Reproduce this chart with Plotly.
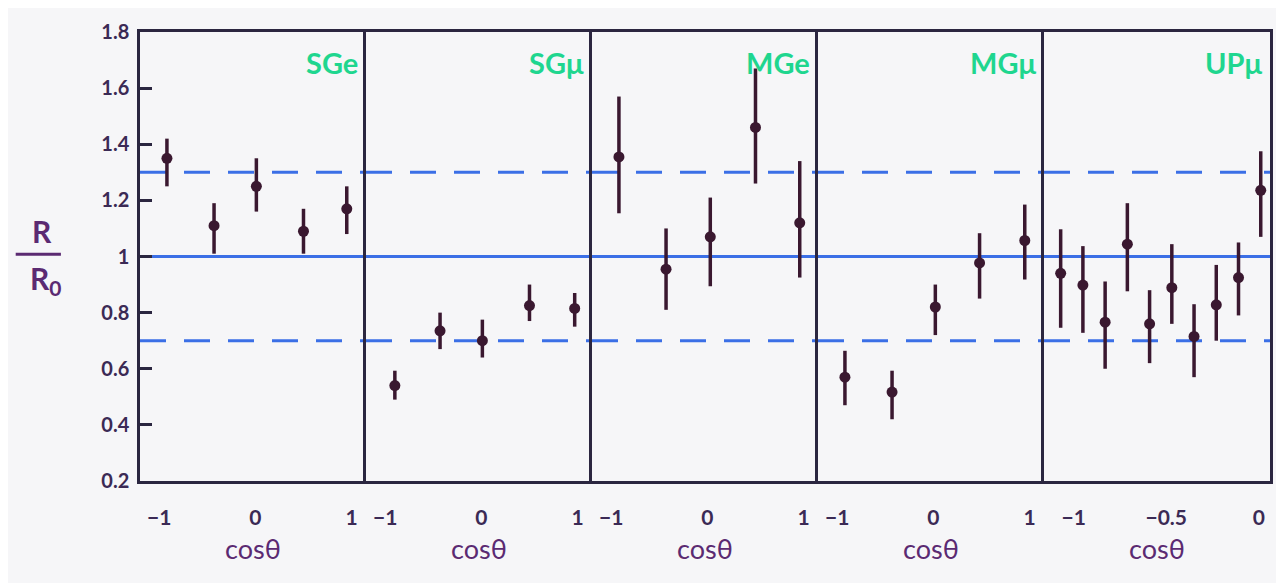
import plotly.graph_objects as go

# ---- data ----
panel_names = ["SGe", "SGμ", "MGe", "MGμ", "UPμ"]

x_sge = [-0.92, -0.43, 0.01, 0.50, 0.95]
y_sge = [1.35, 1.11, 1.25, 1.09, 1.17]
hi_sge = [1.42, 1.19, 1.35, 1.17, 1.25]
lo_sge = [1.25, 1.01, 1.16, 1.01, 1.08]

x_sgm = [-0.90, -0.43, 0.01, 0.50, 0.97]
y_sgm = [0.54, 0.735, 0.70, 0.825, 0.815]
hi_sgm = [0.593, 0.80, 0.775, 0.90, 0.87]
lo_sgm = [0.49, 0.67, 0.64, 0.77, 0.75]

x_mge = [-0.92, -0.43, 0.03, 0.50, 0.96]
y_mge = [1.355, 0.955, 1.07, 1.46, 1.12]
hi_mge = [1.57, 1.10, 1.21, 1.67, 1.34]
lo_mge = [1.154, 0.81, 0.894, 1.26, 0.925]

x_mgm = [-0.92, -0.43, 0.02, 0.48, 0.95]
y_mgm = [0.57, 0.517, 0.82, 0.977, 1.057]
hi_mgm = [0.664, 0.593, 0.90, 1.083, 1.185]
lo_mgm = [0.47, 0.42, 0.72, 0.85, 0.918]

x_upm = [-1.07, -0.95, -0.83, -0.71, -0.59, -0.47, -0.35, -0.23, -0.11, 0.01]
y_upm = [0.94, 0.898, 0.766, 1.044, 0.76, 0.889, 0.715, 0.828, 0.925, 1.236]
hi_upm = [1.097, 1.037, 0.911, 1.19, 0.88, 1.044, 0.83, 0.97, 1.05, 1.375]
lo_upm = [0.746, 0.728, 0.60, 0.876, 0.62, 0.76, 0.57, 0.70, 0.79, 1.07]

y_ticks = [0.2, 0.4, 0.6, 0.8, 1.0, 1.2, 1.4, 1.6, 1.8]
y_ticklabels = ["0.2", "0.4", "0.6", "0.8", "1", "1.2", "1.4", "1.6", "1.8"]
x_ticks_full = [-1, 0, 1]
x_ticklabels_full = ["−1", "0", "1"]
x_ticks_up = [-1, -0.5, 0]
x_ticklabels_up = ["−1", "−0.5", "0"]
ref_solid = 1.0
ref_dashed = [0.7, 1.3]

panels = [
    (x_sge, y_sge, hi_sge, lo_sge),
    (x_sgm, y_sgm, hi_sgm, lo_sgm),
    (x_mge, y_mge, hi_mge, lo_mge),
    (x_mgm, y_mgm, hi_mgm, lo_mgm),
    (x_upm, y_upm, hi_upm, lo_upm),
]
x_ranges = [[-1.2, 1.15]] * 4 + [[-1.16, 0.06]]

# ---- style ----
BG = "#f6f6f8"
FRAME = "#2b2640"
MARK = "#3a1830"
BLUE = "#3b6fe6"
GREEN = "#1fd68f"
PURPLE = "#5b2a72"
TICKC = "#3b2a55"
FONT = "Lato"

fig = go.Figure()
n = len(panels)
for i, (xs, ys, his, los) in enumerate(panels):
    xa = "x" if i == 0 else f"x{i+1}"
    ya = "y" if i == 0 else f"y{i+1}"
    x0, x1 = x_ranges[i]
    fig.add_trace(go.Scatter(x=[x0, x1], y=[ref_solid, ref_solid], mode="lines",
                             line=dict(color=BLUE, width=3), xaxis=xa, yaxis=ya,
                             showlegend=False, hoverinfo="skip"))
    for rd in ref_dashed:
        fig.add_trace(go.Scatter(x=[x0, x1], y=[rd, rd], mode="lines",
                                 line=dict(color=BLUE, width=3, dash="26px,18px"),
                                 xaxis=xa, yaxis=ya, showlegend=False, hoverinfo="skip"))
    fig.add_trace(go.Scatter(
        x=xs, y=ys, mode="markers",
        marker=dict(color=MARK, size=11),
        error_y=dict(type="data", symmetric=False,
                     array=[h - v for h, v in zip(his, ys)],
                     arrayminus=[v - l for v, l in zip(ys, los)],
                     color=MARK, thickness=3.5, width=0),
        xaxis=xa, yaxis=ya, showlegend=False))

# page body adds an 8px margin; compensate so the plot area lands where the reference has it
layout = dict(
    width=1276, height=575,
    paper_bgcolor=BG, plot_bgcolor=BG,
    margin=dict(l=132, r=11, t=18, b=102),
    showlegend=False,
)
for i in range(n):
    key = "" if i == 0 else str(i + 1)
    ticks = x_ticks_up if i == n - 1 else x_ticks_full
    labels = x_ticklabels_up if i == n - 1 else x_ticklabels_full
    layout[f"xaxis{key}"] = dict(
        domain=[i / n, (i + 1) / n], range=x_ranges[i],
        anchor="y" + key, showgrid=False, zeroline=False,
        showline=True, linecolor=FRAME, linewidth=3, mirror=True,
        tickvals=ticks, ticktext=labels, ticks="",
        ticklabelstandoff=16,
        tickfont=dict(family=FONT, size=21, color=TICKC, weight="bold"),
        title=dict(text="cosθ", font=dict(family=FONT, size=27, color=PURPLE), standoff=12),
    )
    ydict = dict(
        range=[0.2, 1.8], anchor="x" + key, showgrid=False, zeroline=False,
        showline=True, linecolor=FRAME, linewidth=2.5,
        mirror=(i == n - 1),
        tickvals=y_ticks, ticktext=y_ticklabels,
    )
    if i == 0:
        ydict.update(ticks="inside", ticklen=12, tickwidth=2.5, tickcolor=FRAME,
                     ticklabelstandoff=4,
                     tickfont=dict(family=FONT, size=20, color=TICKC, weight="bold"))
    else:
        ydict.update(showticklabels=False, ticks="")
    layout[f"yaxis{key}"] = ydict

fig.update_layout(**layout)

for i, name in enumerate(panel_names):
    fig.add_annotation(text=name, xref="paper", yref="paper",
                       x=(i + 1) / n - 0.005, y=0.975, xanchor="right", yanchor="top",
                       showarrow=False,
                       font=dict(family=FONT, size=29, color=GREEN, weight="bold"))

fig.add_annotation(text="R", xref="paper", yref="paper", x=-0.087, y=0.512,
                   xanchor="center", yanchor="bottom", showarrow=False,
                   font=dict(family=FONT, size=30, color=PURPLE, weight="bold"))
fig.add_annotation(text="R<sub>0</sub>", xref="paper", yref="paper", x=-0.084, y=0.497,
                   xanchor="center", yanchor="top", showarrow=False,
                   font=dict(family=FONT, size=30, color=PURPLE, weight="bold"))
fig.add_shape(type="line", xref="paper", yref="paper", x0=-0.11, x1=-0.07,
              y0=0.505, y1=0.505, line=dict(color=PURPLE, width=3))

fig.write_html("out.html")
